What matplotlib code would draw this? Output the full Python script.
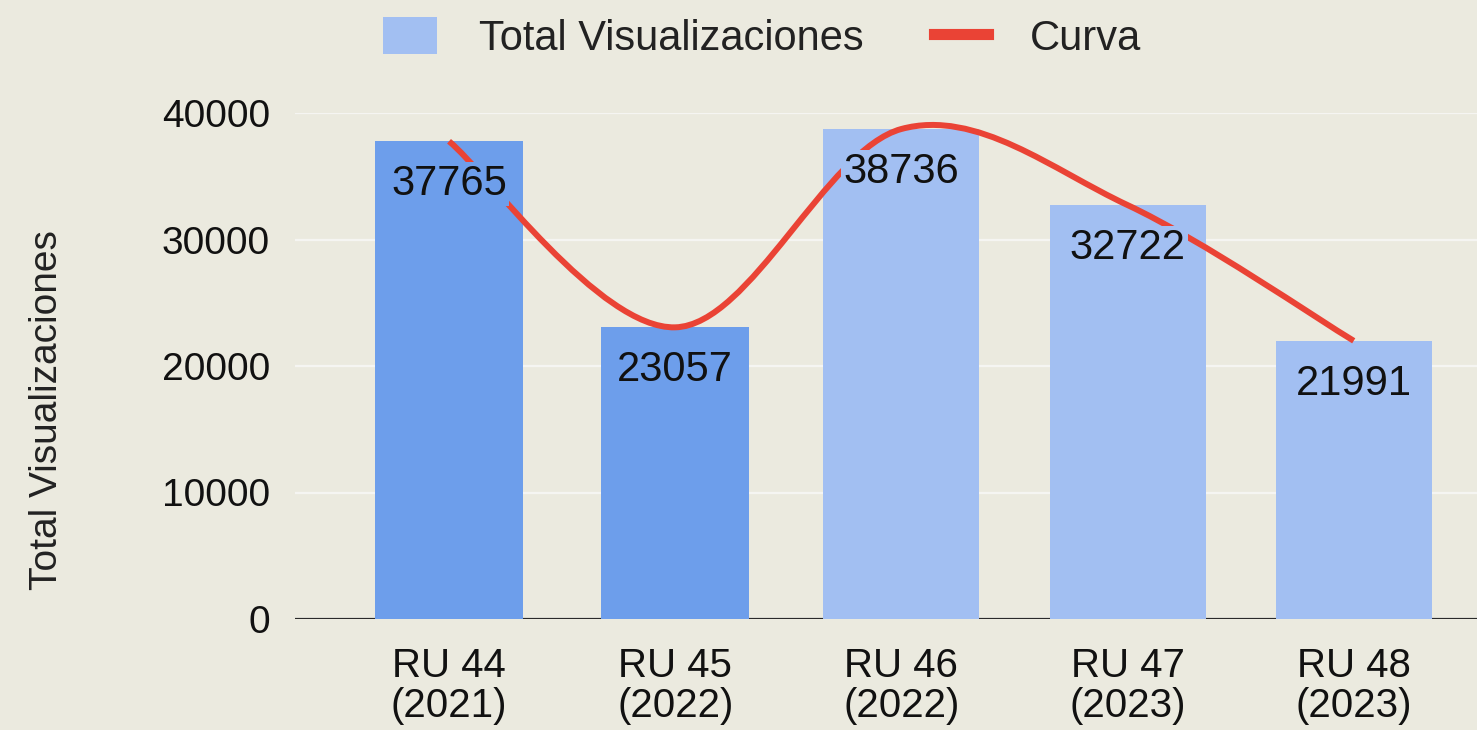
import numpy as np
import matplotlib.pyplot as plt
from matplotlib.path import Path
from matplotlib.patches import PathPatch, Patch
from matplotlib.lines import Line2D

categories = ["RU 44\n(2021)", "RU 45\n(2022)", "RU 46\n(2022)", "RU 47\n(2023)", "RU 48\n(2023)"]
views = [37765, 23057, 38736, 32722, 21991]
yticks = [0, 10000, 20000, 30000, 40000]

bar_colors = ["#6D9EEB", "#6D9EEB", "#A2BFF2", "#A2BFF2", "#A2BFF2"]
bar_widths = [0.655, 0.655, 0.69, 0.69, 0.69]
bg = "#EBEADF"
red = "#EA4335"

plt.rcParams['font.family'] = ['Liberation Sans', 'DejaVu Sans']

fig = plt.figure(figsize=(14.77, 7.30), dpi=100, facecolor=bg)
ax = fig.add_axes([295 / 1477, 111 / 730, 1182 / 1477, 506 / 730])
ax.set_facecolor(bg)

x = np.arange(len(views))
ax.bar(x, views, width=bar_widths, color=bar_colors, zorder=2)

# smooth curve through bar tops (catmull-rom like google "function" curve)
pts = np.column_stack([x, views]).astype(float)
verts = [pts[0]]
codes = [Path.MOVETO]
for i in range(len(pts) - 1):
    p_prev = pts[max(i - 1, 0)]
    p_next = pts[min(i + 2, len(pts) - 1)]
    c1 = pts[i] + (pts[i + 1] - p_prev) / 6
    c2 = pts[i + 1] - (p_next - pts[i]) / 6
    verts += [c1, c2, pts[i + 1]]
    codes += [Path.CURVE4] * 3
ax.add_patch(PathPatch(Path(verts, codes), fill=False, edgecolor=red, lw=4.3,
                       zorder=3, capstyle='butt'))

for xi, v, c in zip(x, views, bar_colors):
    ax.annotate(str(v), (xi, v), xytext=(0, -43), textcoords='offset pixels',
                ha='center', va='center', fontsize=30, color='#111111', zorder=4,
                bbox=dict(boxstyle='square,pad=0.05', fc=c, ec='none'))

ax.set_xlim(-0.681, 4.545)
ax.set_ylim(0, 40000)
ax.set_yticks(yticks)
ax.set_xticks(x)
ax.set_xticklabels(categories, fontsize=29, linespacing=1.08, color='#111111')
ax.tick_params(axis='y', length=0, pad=18, labelsize=28, labelcolor='#111111')
ax.tick_params(axis='x', length=0, pad=20)
ax.yaxis.grid(True, color='#F5F5F2', lw=1.6)
ax.set_axisbelow(True)
ax.axhline(0, color='#2A2A2A', lw=2.3, zorder=1.5)
for s in ax.spines.values():
    s.set_visible(False)

fig.text(47 / 1477, 1 - 410 / 730, "Total Visualizaciones", rotation=90,
         ha='center', va='center', fontsize=28, color='#222222')

handles = [Patch(facecolor="#A2BFF2", edgecolor='none'),
           Line2D([], [], color=red, lw=8)]
fig.legend(handles, ["Total Visualizaciones", "Curva"], ncol=2, loc='center',
           bbox_to_anchor=(762 / 1477, 1 - 38 / 730), frameon=False, fontsize=30,
           handlelength=1.3, handleheight=1.0, handletextpad=1.0, columnspacing=1.7,
           labelcolor='#222222')

fig.savefig("out.png", dpi=100, facecolor=bg)
